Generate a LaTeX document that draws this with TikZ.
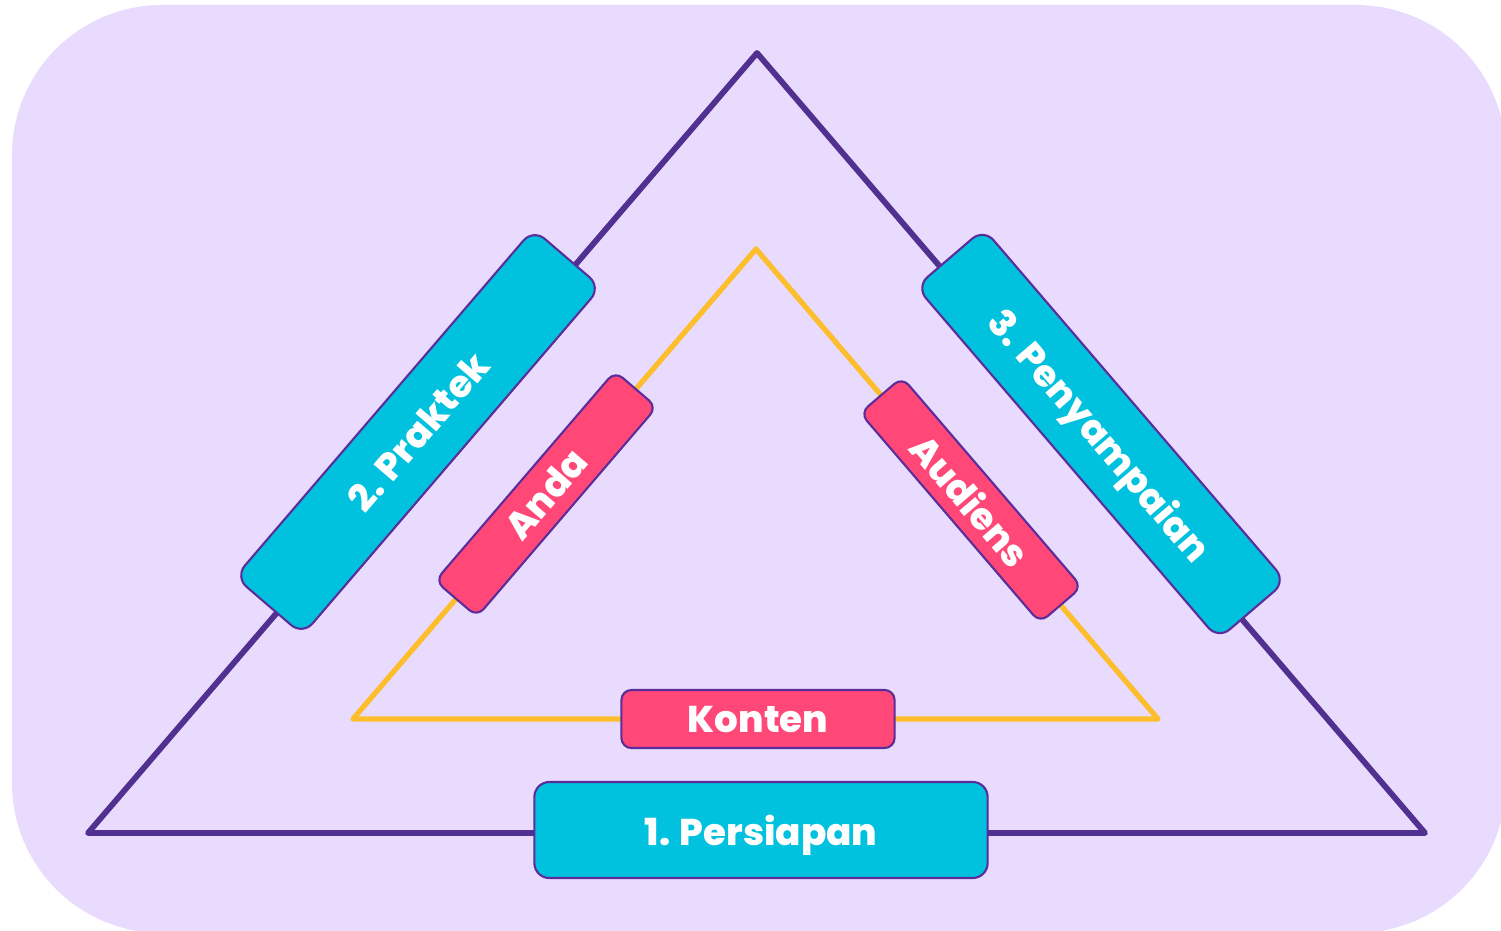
\documentclass[tikz,border=0pt]{standalone}
\usepackage{fontspec}
\setmainfont{Poppins}[BoldFont={Poppins ExtraBold}]
\usepackage{tikz}

\definecolor{bglilac}{HTML}{E9DBFE}
\definecolor{outerline}{HTML}{51308F}
\definecolor{innerline}{HTML}{FDBE2E}
\definecolor{stepcyan}{HTML}{00C2DE}
\definecolor{steppink}{HTML}{FF4778}
\definecolor{boxedge}{HTML}{5B2D9B}

\begin{document}
\begin{tikzpicture}[x=0.01cm, y=-0.01cm,
    stagebox/.style={draw=boxedge, line width=0.6pt, fill=stepcyan, rounded corners=0.15cm,
        text=white, font=\fontsize{10.6}{12}\selectfont\bfseries, inner sep=0pt, text depth=0pt},
    factorbox/.style={draw=boxedge, line width=0.6pt, fill=steppink, rounded corners=0.1cm,
        text=white, font=\fontsize{10.6}{12}\selectfont\bfseries, inner sep=0pt, text depth=0pt}]
    \useasboundingbox (0, 0) rectangle (1501, 931);
    \clip (0, 0) rectangle (1501, 931);
    \fill[bglilac, rounded corners=1.5cm] (12, 5) rectangle (1506, 933);

    % outer triangle
    \coordinate (OT) at (757, 53);
    \coordinate (OL) at (88, 833);
    \coordinate (OR) at (1425, 833);
    \draw[outerline, line width=1.65pt, line join=round] (OT) -- (OL) -- (OR) -- cycle;

    % inner triangle
    \coordinate (IT) at (756, 249);
    \coordinate (IL) at (353, 719);
    \coordinate (IR) at (1158, 719);
    \draw[innerline, line width=1.5pt, line join=round] (IT) -- (IL) -- (IR) -- cycle;

    \node (Persiapan) [stagebox, minimum width=4.53cm, minimum height=0.96cm] at (761, 830) {1. Persiapan};
    \node (Praktek) [stagebox, minimum width=4.58cm, minimum height=0.89cm, rotate=49.4] at (418, 432) {2. Praktek};
    \node (Penyampaian) [stagebox, minimum width=4.64cm, minimum height=0.89cm, rotate=-49.4] at (1101, 434) {3. Penyampaian};

    \node (Anda) [factorbox, minimum width=2.76cm, minimum height=0.55cm, rotate=49.4] at (546, 494) {Anda};
    \node (Audiens) [factorbox, minimum width=2.76cm, minimum height=0.55cm, rotate=-49.4] at (971, 500) {Audiens};
    \node (Konten) [factorbox, minimum width=2.73cm, minimum height=0.58cm] at (758, 719) {Konten};
\end{tikzpicture}
\end{document}
